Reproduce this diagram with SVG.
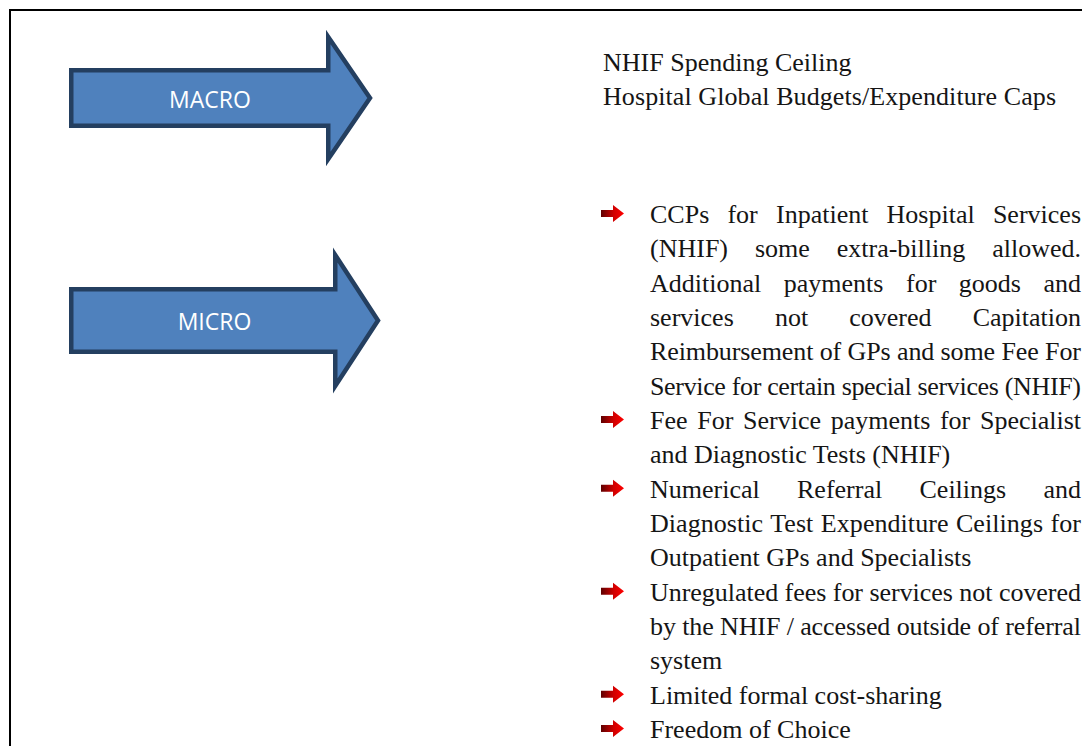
<svg xmlns="http://www.w3.org/2000/svg" width="1082" height="746" viewBox="0 0 1082 746">
  <defs>
    <linearGradient id="bulletFill" x1="0" y1="0" x2="1" y2="0">
      <stop offset="0" stop-color="#5e0000"/>
      <stop offset="0.55" stop-color="#d00000"/>
      <stop offset="1" stop-color="#ff0000"/>
    </linearGradient>
    <!-- small red arrow used as list bullet; origin = top-left -->
    <path id="bullet" d="M0,5 H12 V0 L23,8.5 L12,17 V12 H0 Z" fill="url(#bulletFill)"/>
  </defs>
  <style>
    .frame { stroke: #000; stroke-width: 2; fill: none; }
    .block { fill: #4f81bd; stroke: #243f60; stroke-width: 4.5; stroke-linejoin: miter; }
    .label { font-family: "Open Sans", "Liberation Sans", sans-serif; font-size: 23px; fill: #ffffff; text-anchor: middle; }
    .body { font-family: "Liberation Serif", serif; font-size: 26px; fill: #151515; }
  </style>

  <rect width="1082" height="746" fill="#ffffff"/>

  <!-- outer frame (top and left edges) -->
  <path class="frame" d="M10,746 V10 H1082"/>

  <!-- level arrows -->
  <g id="macro">
    <path class="block" d="M71.25,70.25 H328.25 V37 L370,98 L328.25,159 V125.75 H71.25 Z"/>
    <text class="label" x="210" y="108">MACRO</text>
  </g>
  <g id="micro">
    <path class="block" d="M71.25,289.25 H335.25 V255 L378,320.5 L335.25,386 V351.75 H71.25 Z"/>
    <text class="label" x="214.5" y="330">MICRO</text>
  </g>

  <!-- macro-level instruments -->
  <g id="macro-items" class="body">
    <text x="603" y="71">NHIF Spending Ceiling</text>
    <text x="603" y="105" textLength="453" lengthAdjust="spacing">Hospital Global Budgets/Expenditure Caps</text>
  </g>

  <!-- micro-level instruments -->
  <g id="micro-bullets">
    <use href="#bullet" x="601" y="205"/>
    <use href="#bullet" x="601" y="411"/>
    <use href="#bullet" x="601" y="479.7"/>
    <use href="#bullet" x="601" y="582.7"/>
    <use href="#bullet" x="601" y="685.7"/>
    <use href="#bullet" x="601" y="720"/>
  </g>
  <g id="micro-items" class="body">
    <text x="650" y="223" word-spacing="11.7" textLength="431" lengthAdjust="spacing">CCPs for Inpatient Hospital Services</text>
    <text x="650" y="257.3" word-spacing="20.4" textLength="431" lengthAdjust="spacing">(NHIF) some extra-billing allowed.</text>
    <text x="650" y="291.7" word-spacing="16" textLength="431" lengthAdjust="spacing">Additional payments for goods and</text>
    <text x="650" y="326" word-spacing="34.6" textLength="431" lengthAdjust="spacing">services not covered Capitation</text>
    <text x="650" y="360.3" textLength="431" lengthAdjust="spacing">Reimbursement of GPs and some Fee For</text>
    <text x="650" y="394.7" textLength="431" lengthAdjust="spacing">Service for certain special services (NHIF)</text>
    <text x="650" y="429" word-spacing="3.2" textLength="431" lengthAdjust="spacing">Fee For Service payments for Specialist</text>
    <text x="650" y="463.3">and Diagnostic Tests (NHIF)</text>
    <text x="650" y="497.7" word-spacing="30.8" textLength="431" lengthAdjust="spacing">Numerical Referral Ceilings and</text>
    <text x="650" y="532" word-spacing="0.9" textLength="431" lengthAdjust="spacing">Diagnostic Test Expenditure Ceilings for</text>
    <text x="650" y="566.3">Outpatient GPs and Specialists</text>
    <text x="650" y="600.7" textLength="431" lengthAdjust="spacing">Unregulated fees for services not covered</text>
    <text x="650" y="635" textLength="431" lengthAdjust="spacing">by the NHIF / accessed outside of referral</text>
    <text x="650" y="669.3">system</text>
    <text x="650" y="703.7">Limited formal cost-sharing</text>
    <text x="650" y="738">Freedom of Choice</text>
  </g>
</svg>
